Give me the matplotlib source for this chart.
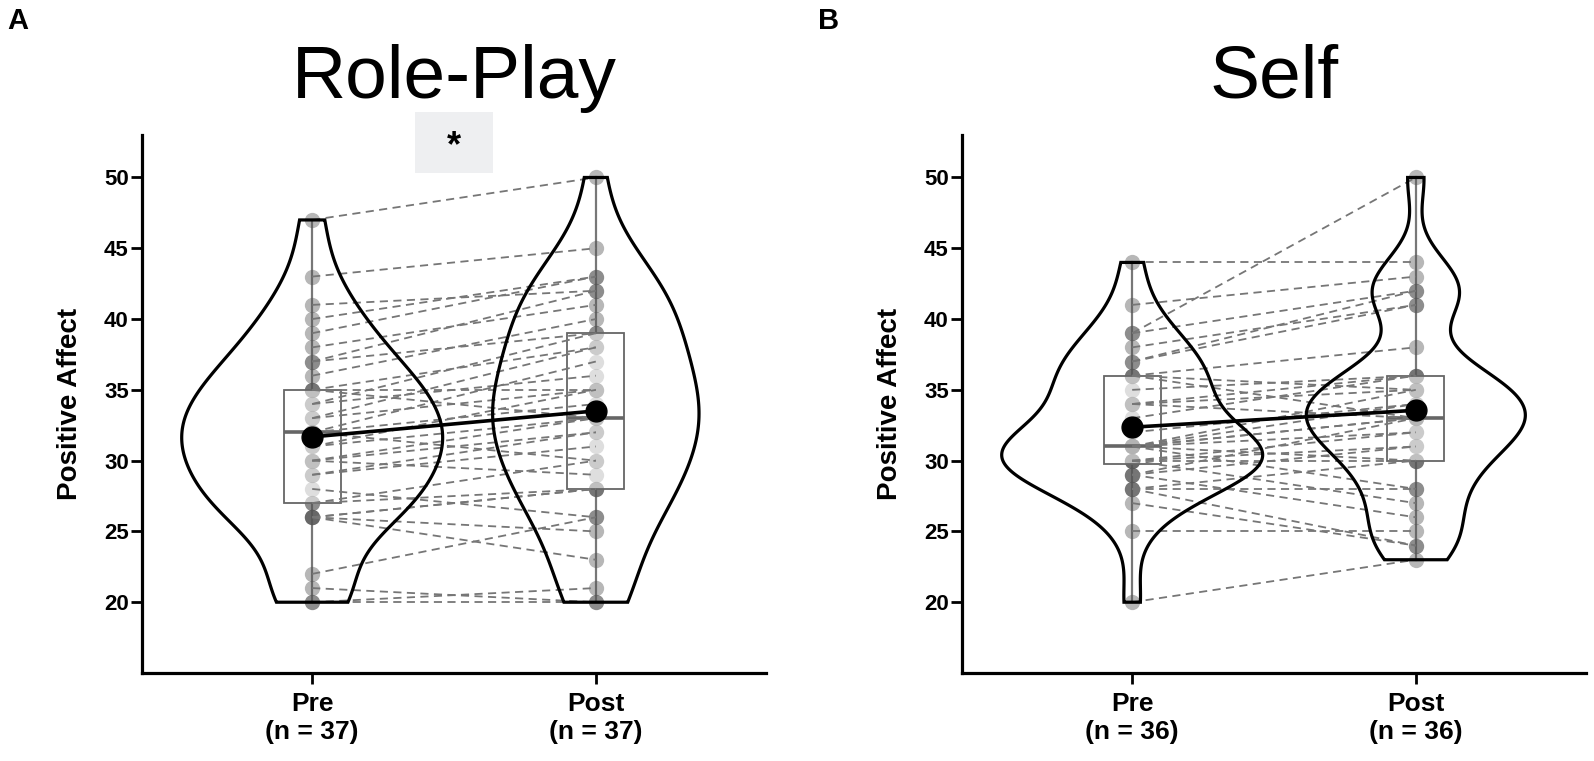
import numpy as np
import matplotlib.pyplot as plt
from matplotlib.patches import Rectangle

plt.rcParams['font.family'] = ['Liberation Sans', 'DejaVu Sans']

# paired scores, one entry per participant (pre[i] goes with post[i])
rp_pre = [47, 43, 41, 40, 39, 38, 37, 37, 36, 35, 35, 35, 34, 34, 33, 33, 32, 32, 32,
          31, 31, 30, 30, 30, 29, 29, 28, 27, 27, 26, 26, 26, 26, 22, 21, 20, 20]
rp_post = [50, 45, 42, 43, 43, 41, 39, 42, 40, 35, 38, 33, 39, 36, 38, 35, 37, 34, 30,
           33, 35, 32, 29, 33, 31, 32, 26, 30, 28, 25, 28, 23, 28, 26, 20, 21, 20]

self_pre = [44, 41, 39, 39, 38, 37, 37, 36, 36, 36, 35, 34, 34, 34, 33, 32, 31, 31,
            31, 31, 31, 31, 31, 30, 30, 30, 30, 29, 29, 29, 28, 28, 28, 27, 25, 20]
self_post = [44, 43, 50, 42, 41, 42, 41, 38, 35, 33, 36, 36, 35, 33, 36, 34, 33, 35,
             32, 30, 34, 28, 33, 32, 31, 27, 30, 33, 26, 31, 30, 24, 28, 24, 25, 23]

titles = ['Role-Play', 'Self']
letters = ['A', 'B']
conditions = ['Pre', 'Post']
yticks = [20, 25, 30, 35, 40, 45, 50]


def kde(vals, grid):
    vals = np.asarray(vals, float)
    q1, q3 = np.percentile(vals, [25, 75])
    bw = 0.9 * min(vals.std(ddof=1), (q3 - q1) / 1.34) * len(vals) ** -0.2
    z = (grid[:, None] - vals[None, :]) / bw
    return np.exp(-0.5 * z ** 2).sum(axis=1) / (len(vals) * bw * np.sqrt(2 * np.pi))


fig = plt.figure(figsize=(15.94, 7.61), dpi=100)
lefts = [142 / 1594, 962 / 1594]
W, H = 624 / 1594, 538 / 761
B = 88 / 761

data = [(rp_pre, rp_post), (self_pre, self_post)]

for k in range(2):
    pre, post = data[k]
    ax = fig.add_axes([lefts[k], B, W, H])
    groups = [pre, post]

    # violins (area scaled, trimmed at data range)
    grids = [np.linspace(min(g), max(g), 300) for g in groups]
    dens = [kde(g, gr) for g, gr in zip(groups, grids)]
    scale = 0.46 / max(d.max() for d in dens)
    for pos, gr, d in zip([0, 1], grids, dens):
        hw = d * scale
        xs = np.concatenate([pos - hw, (pos + hw)[::-1]])
        ys = np.concatenate([gr, gr[::-1]])
        ax.fill(xs, ys, fc='none', ec='black', lw=2.3, zorder=5)

    # boxes
    bp = ax.boxplot(groups, positions=[0, 1], widths=0.2, whis=(0, 100),
                    showfliers=False, patch_artist=True, manage_ticks=False,
                    boxprops=dict(facecolor=(1, 1, 1, 0.55), edgecolor='#666666', lw=1.3),
                    whiskerprops=dict(color='#777777', lw=1.6),
                    capprops=dict(lw=0),
                    medianprops=dict(color='#666666', lw=2.6))
    for b in bp['boxes']:
        b.set_zorder(3)
    for m in bp['medians']:
        m.set_zorder(3.1)
    for w in bp['whiskers']:
        w.set_zorder(1)

    # individual points
    for pos, g in zip([0, 1], groups):
        ax.plot(np.full(len(g), pos), g, 'o', ms=11, color='#555555', alpha=0.42,
                mec='none', zorder=2)

    # paired lines
    for a, b in zip(pre, post):
        ax.plot([0, 1], [a, b], ls=(0, (4.5, 3)), color='#767676', lw=1.3, zorder=4)

    # means
    ax.plot([0, 1], [np.mean(pre), np.mean(post)], '-o', color='black', lw=2.6,
            ms=15, zorder=6)

    ax.set_xlim(-0.6, 1.6)
    ax.set_ylim(15, 53)
    ax.set_yticks(yticks)
    ax.set_yticklabels([str(t) for t in yticks], fontsize=16, fontweight='bold')
    ax.set_xticks([0, 1])
    ax.set_xticklabels(['%s\n(n = %d)' % (c, len(g)) for c, g in zip(conditions, groups)],
                       fontsize=19, fontweight='bold', linespacing=1.2)
    ax.tick_params(axis='y', length=8, width=2, pad=1.5, colors='black')
    ax.tick_params(axis='x', length=8, width=2, pad=6, colors='black')
    for s in ['top', 'right']:
        ax.spines[s].set_visible(False)
    for s in ['left', 'bottom']:
        ax.spines[s].set_linewidth(2.3)
    ax.set_ylabel('Positive Affect', fontsize=20, fontweight='bold')
    ax.yaxis.set_label_coords(-0.095, 0.5)

    fig.text(lefts[k] + W / 2, 1 - 98 / 761, titles[k], ha='center', va='baseline',
             fontsize=54)
    fig.text([7 / 1594, 818 / 1594][k], 1 - 29 / 761, letters[k], ha='left',
             va='baseline', fontsize=21, fontweight='bold')

    if k == 0:
        ax.add_patch(Rectangle((0.5 - 0.137, 50.3), 0.274, 4.3, fc='#eeeff1',
                               ec='none', clip_on=False, zorder=0))
        ax.text(0.5, 52.2, '*', ha='center', va='center', fontsize=26,
                fontweight='bold', clip_on=False)

fig.savefig('out.png', dpi=100)
